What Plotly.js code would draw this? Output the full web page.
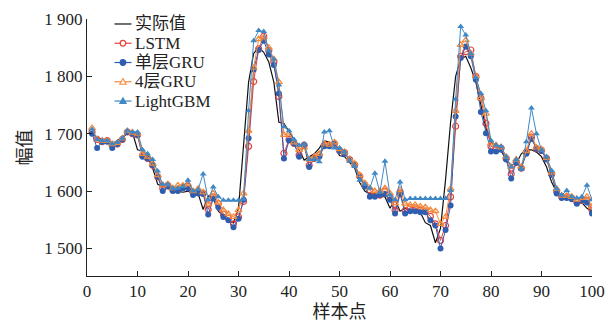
<!DOCTYPE html>
<html>
<head>
<meta charset="utf-8">
<script src="https://cdn.plot.ly/plotly-3.0.1.min.js"></script>
<style>html,body{margin:0;padding:0;background:#fff;}#chart{width:607px;height:323px;}</style>
</head>
<body>
<div id="chart"></div>
<script>
const seriesNames = ["实际值", "LSTM", "单层GRU", "4层GRU", "LightGBM"];
const actual = [1700,1694,1690,1686,1682,1688,1694,1700,1702,1672,1670,1660,1640,1612,1608,1605,1600,1600,1598,1600,1595,1596,1568,1592,1588,1565,1558,1548,1545,1570,1680,1790,1840,1850,1842,1825,1790,1720,1718,1705,1690,1672,1654,1660,1665,1675,1688,1685,1680,1662,1660,1650,1640,1615,1600,1595,1595,1592,1590,1570,1585,1565,1570,1565,1565,1563,1545,1540,1510,1535,1620,1720,1800,1830,1835,1815,1790,1750,1710,1685,1678,1670,1655,1645,1648,1665,1672,1672,1668,1660,1642,1616,1598,1590,1588,1585,1578,1580,1570,1565];
const lstm = [1703,1690,1686,1688,1680,1682,1690,1703,1700,1698,1662,1657,1645,1625,1605,1610,1602,1602,1607,1608,1598,1598,1596,1568,1590,1578,1560,1553,1543,1555,1582,1678,1791,1848,1870,1845,1825,1765,1666,1690,1683,1663,1680,1645,1657,1663,1680,1680,1683,1671,1667,1655,1646,1626,1611,1602,1593,1593,1600,1590,1567,1597,1566,1571,1571,1567,1565,1556,1543,1514,1540,1590,1713,1835,1843,1846,1800,1762,1718,1678,1676,1675,1657,1630,1650,1640,1668,1694,1674,1671,1657,1630,1600,1590,1590,1588,1581,1584,1584,1567];
const gru1 = [1700,1675,1686,1686,1675,1682,1690,1703,1700,1698,1660,1657,1645,1625,1600,1608,1600,1600,1605,1605,1593,1596,1595,1559,1587,1572,1555,1549,1537,1552,1585,1692,1812,1846,1862,1838,1820,1770,1657,1688,1683,1660,1680,1642,1657,1660,1678,1678,1683,1670,1665,1655,1646,1626,1608,1590,1590,1593,1595,1585,1561,1595,1561,1565,1565,1563,1563,1549,1540,1500,1532,1575,1730,1832,1852,1835,1794,1738,1701,1669,1669,1672,1655,1622,1650,1640,1665,1691,1674,1670,1655,1628,1596,1588,1588,1586,1578,1584,1580,1561];
const gru4 = [1710,1690,1688,1688,1682,1684,1692,1705,1702,1700,1665,1660,1648,1628,1610,1612,1605,1610,1610,1612,1600,1604,1598,1577,1596,1580,1567,1560,1555,1567,1596,1705,1815,1865,1868,1850,1830,1790,1698,1700,1685,1672,1676,1655,1660,1665,1683,1681,1685,1673,1668,1656,1648,1628,1614,1605,1600,1600,1605,1596,1579,1602,1578,1576,1576,1573,1572,1567,1565,1543,1555,1604,1740,1855,1863,1840,1800,1762,1735,1683,1680,1676,1660,1642,1655,1643,1670,1700,1676,1673,1658,1632,1604,1592,1592,1590,1585,1588,1590,1573];
const lightgbm = [1708,1690,1688,1688,1682,1685,1692,1705,1703,1703,1672,1665,1655,1635,1612,1612,1605,1605,1608,1619,1600,1603,1630,1585,1607,1590,1584,1584,1584,1584,1586,1740,1862,1880,1878,1845,1830,1785,1712,1705,1690,1680,1682,1655,1655,1651,1703,1705,1675,1675,1668,1652,1643,1619,1612,1605,1631,1598,1652,1593,1585,1616,1585,1587,1587,1587,1587,1587,1587,1587,1587,1601,1760,1887,1872,1840,1798,1770,1740,1688,1680,1678,1660,1642,1655,1638,1686,1745,1700,1671,1660,1636,1604,1593,1601,1590,1588,1590,1610,1585];
const xTickVals = [0,10,20,30,40,50,60,70,80,90,100];
const yTickVals = [1500,1600,1700,1800,1900];
const yTickText = ["1 500","1 600","1 700","1 800","1 900"];
const xAxisTitle = "样本点";
const yAxisTitle = "幅值";

const xs = actual.map((_, i) => i + 1);
const FONT = "Liberation Serif, Times New Roman, Noto Sans CJK SC, serif";
const colors = ["#111111", "#e8413c", "#2f5db0", "#f5883a", "#3f88c5"];

const traces = [
  {x: xs, y: actual, name: seriesNames[0], mode: "lines", line: {color: colors[0], width: 1.2}},
  {x: xs, y: lstm, name: seriesNames[1], mode: "lines+markers", line: {color: colors[1], width: 1},
   marker: {symbol: "circle-open", size: 6, color: colors[1], line: {width: 1.2}}},
  {x: xs, y: gru1, name: seriesNames[2], mode: "lines+markers", line: {color: colors[2], width: 1},
   marker: {symbol: "circle", size: 6, color: colors[2]}},
  {x: xs, y: gru4, name: seriesNames[3], mode: "lines+markers", line: {color: colors[3], width: 1},
   marker: {symbol: "triangle-up-open", size: 6, color: colors[3], line: {width: 1.2}}},
  {x: xs, y: lightgbm, name: seriesNames[4], mode: "lines+markers", line: {color: colors[4], width: 1},
   marker: {symbol: "triangle-up", size: 6, color: colors[4]}}
];

// custom compact legend (paper coordinates derived from pixel layout)
const M = {l: 86.5, r: 15.3, t: 18.5, b: 47};
const PW = 607 - M.l - M.r, PH = 323 - M.t - M.b;
const px = v => (v - M.l) / PW;
const py = v => (323 - M.b - v) / PH;
const shapes = [], annotations = [];
const legendKinds = ["none", "circle-open", "circle", "tri-open", "tri"];
seriesNames.forEach((name, i) => {
  const yc = 23.5 + i * 19.3;
  shapes.push({type: "line", xref: "paper", yref: "paper", x0: px(114), x1: px(131), y0: py(yc), y1: py(yc),
               line: {color: colors[i], width: 1.2}});
  const k = legendKinds[i];
  const cx = px(122.5), cy = py(yc);
  if (k === "circle-open" || k === "circle") {
    shapes.push({type: "circle", xref: "paper", yref: "paper", xsizemode: "pixel", ysizemode: "pixel",
                 xanchor: cx, yanchor: cy, x0: -2.8, x1: 2.8, y0: -2.8, y1: 2.8,
                 line: {color: colors[i], width: 1.2}, fillcolor: k === "circle" ? colors[i] : "#ffffff"});
  } else if (k === "tri-open" || k === "tri") {
    shapes.push({type: "path", xref: "paper", yref: "paper", xsizemode: "pixel", ysizemode: "pixel",
                 xanchor: cx, yanchor: cy, path: "M-3.2,-2.4 L3.2,-2.4 L0,3.2 Z",
                 line: {color: colors[i], width: 1.1}, fillcolor: k === "tri" ? colors[i] : "#ffffff"});
  }
  annotations.push({text: name, xref: "paper", yref: "paper", x: px(134), y: py(yc), xanchor: "left", yanchor: "middle",
                    showarrow: false, borderpad: 0, font: {family: FONT, size: 17, color: "#222"}});
});

const layout = {
  width: 607, height: 323,
  margin: {l: M.l, r: M.r, t: M.t, b: M.b, pad: 0},
  paper_bgcolor: "#fff", plot_bgcolor: "#fff",
  font: {family: FONT, size: 18, color: "#222"},
  showlegend: false,
  shapes: shapes, annotations: annotations,
  xaxis: {range: [0, 100], tickvals: xTickVals, ticks: "inside", ticklen: 5, tickwidth: 1, tickcolor: "#222",
          showline: true, linecolor: "#222", linewidth: 1, showgrid: false, zeroline: false,
          tickfont: {family: FONT, size: 17, color: "#222"},
          title: {text: xAxisTitle, font: {family: FONT, size: 18, color: "#222"}, standoff: 4}},
  yaxis: {range: [1452, 1900], tickvals: yTickVals, ticktext: yTickText, ticks: "inside", ticklen: 5, tickwidth: 1, tickcolor: "#222",
          showline: true, linecolor: "#222", linewidth: 1, showgrid: false, zeroline: false,
          tickfont: {family: FONT, size: 17, color: "#222"},
          title: {text: yAxisTitle, font: {family: FONT, size: 18, color: "#222"}, standoff: 8}}
};

Plotly.newPlot("chart", traces, layout, {displayModeBar: false, staticPlot: true});
</script>
</body>
</html>
